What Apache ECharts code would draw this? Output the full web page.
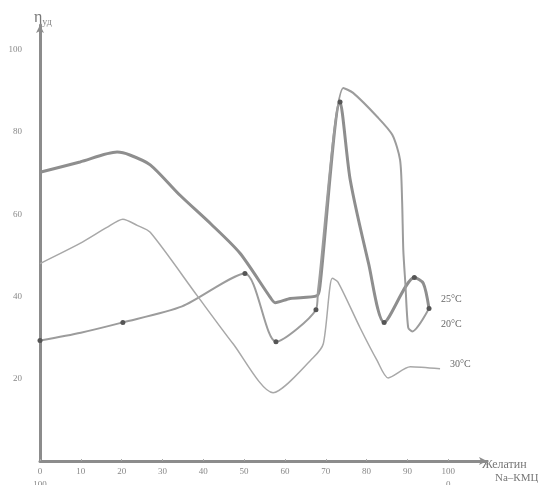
<!DOCTYPE html>
<html>
<head>
<meta charset="utf-8">
<script src="https://cdn.jsdelivr.net/npm/echarts@6/dist/echarts.min.js"></script>
<style>
  html, body { margin: 0; padding: 0; background: #fff; }
  #chart { width: 538px; height: 485px; }
</style>
</head>
<body>
<div id="chart"></div>
<script>
// Specific viscosity of gelatin / Na-CMC mixtures at three temperatures
// x: gelatin content, %;  y: η_уд
const xTicks = [0, 10, 20, 30, 40, 50, 60, 70, 80, 90, 100];
const yTicks = [20, 40, 60, 80, 100];

const curve25 = [
  [0, 70.2], [9.8, 72.7], [18.9, 75.1], [22, 74.4], [27, 72], [34.3, 64.6],
  [42, 57.5], [49, 50.5], [56.4, 39.8], [57.6, 38.5], [61.3, 39.5], [67.9, 40.2],
  [68.6, 42.7], [73.5, 87.3], [76, 68.3], [80.5, 48], [84.3, 33.7], [91.7, 44.6],
  [93.9, 43.2], [95.3, 37.1]
];
const dots25 = [13, 16, 17, 19];

const curve20 = [
  [0, 29.3], [10, 31.2], [20.3, 33.7], [34.8, 37.6], [50.2, 45.6], [57.8, 29],
  [67.6, 36.8], [68.1, 41.5], [74.3, 90.7], [76.7, 89.5], [82.6, 83.7],
  [86.3, 79.3], [88.2, 73.2], [88.7, 63.4], [89, 51.2], [89.5, 43.2],
  [90.2, 32.4], [91.2, 31.5], [95.3, 37.1]
];
const dots20 = [0, 2, 4, 5, 6];

const curve30 = [
  [0, 48], [9.8, 52.9], [16.4, 56.8], [20.3, 58.8], [23.8, 57.3], [27, 55.6],
  [38.5, 40.2], [47.3, 28.5], [57.1, 16.6], [66.9, 25.1], [69.4, 28.5],
  [71.6, 44.4], [73, 43.5], [78.4, 32.4], [82.6, 24.4], [85.3, 20.2],
  [90.7, 22.9], [98, 22.4]
];

const labelFont = 'Liberation Serif';

function dotSize(list) {
  return (val, p) => (list.indexOf(p.dataIndex) >= 0 ? 5 : 0);
}

const chart = echarts.init(document.getElementById('chart'));
chart.setOption({
  animation: false,
  backgroundColor: '#fff',
  grid: { left: 40, right: 51, top: 25, bottom: 24, outerBoundsMode: 'none' },
  xAxis: {
    type: 'value', min: 0, max: 109.5, interval: 10,
    axisLine: { lineStyle: { color: '#8c8c8c', width: 3 },
      symbol: ['none', 'arrow'], symbolSize: [6, 8] },
    axisTick: { show: true, length: 2, inside: true, lineStyle: { color: '#aaa' } },
    splitLine: { show: false },
    axisLabel: {
      showMaxLabel: false, margin: 4, color: '#888', fontSize: 9,
      fontFamily: labelFont, lineHeight: 13,
      formatter: v => v === 0 ? '0\n100' : (v === 100 ? '100\n0' : (xTicks.indexOf(v) >= 0 ? String(v) : ''))
    }
  },
  yAxis: {
    type: 'value', min: 0, max: 106, interval: 20,
    name: 'η{s|уд}',
    nameGap: -2,
    nameTextStyle: {
      align: 'left', padding: [0, 0, 0, -6], color: '#777', fontSize: 16,
      fontFamily: labelFont,
      rich: { s: { fontSize: 10, color: '#888', padding: [8, 0, 0, 0], fontFamily: labelFont } }
    },
    axisLine: { show: true, lineStyle: { color: '#8c8c8c', width: 3 },
      symbol: ['none', 'arrow'], symbolSize: [6, 8] },
    axisTick: { show: false },
    splitLine: { show: false },
    axisLabel: {
      showMinLabel: false, showMaxLabel: false, margin: 18, color: '#888',
      fontSize: 9, fontFamily: labelFont,
      formatter: v => (yTicks.indexOf(v) >= 0 ? String(v) : '')
    }
  },
  series: [
    {
      name: '25°C', type: 'line', data: curve25, smooth: 0.25,
      symbol: 'circle', symbolSize: dotSize(dots25),
      itemStyle: { color: '#555' },
      lineStyle: { color: '#8e8e8e', width: 3 },
      endLabel: { show: true, formatter: '25°C', offset: [4, -9],
        color: '#666', fontSize: 10, fontFamily: labelFont }
    },
    {
      name: '20°C', type: 'line', data: curve20, smooth: 0.25,
      symbol: 'circle', symbolSize: dotSize(dots20),
      itemStyle: { color: '#555' },
      lineStyle: { color: '#9c9c9c', width: 2 },
      endLabel: { show: true, formatter: '20°C', offset: [4, 16],
        color: '#666', fontSize: 10, fontFamily: labelFont }
    },
    {
      name: '30°C', type: 'line', data: curve30, smooth: 0.25,
      showSymbol: false,
      lineStyle: { color: '#a8a8a8', width: 1.5 },
      endLabel: { show: true, formatter: '30°C', offset: [2, -4],
        color: '#666', fontSize: 10, fontFamily: labelFont }
    }
  ],
  graphic: [
    { type: 'text', left: 482, top: 459,
      style: { text: 'Желатин', fill: '#777', fontSize: 12, fontFamily: labelFont } },
    { type: 'text', left: 495, top: 473,
      style: { text: 'Na–КМЦ', fill: '#777', fontSize: 11, fontFamily: labelFont } }
  ]
});
</script>
</body>
</html>
